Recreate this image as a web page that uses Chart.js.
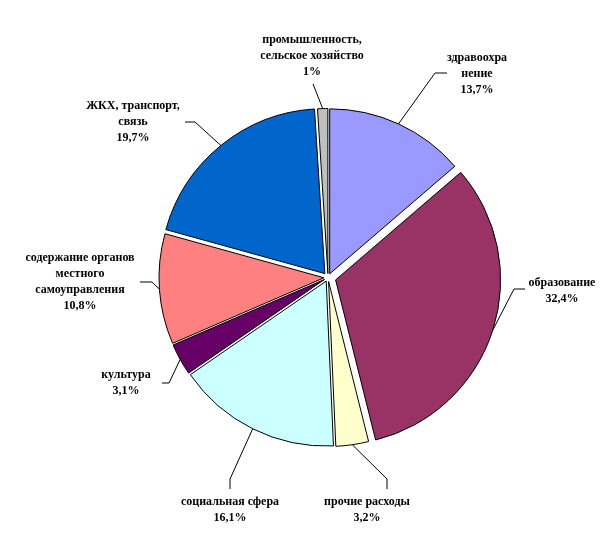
<!DOCTYPE html>
<html>
<head>
<meta charset="utf-8">
<script src="https://cdn.jsdelivr.net/npm/chart.js@4/dist/chart.umd.min.js"></script>
<style>
  html, body { margin: 0; padding: 0; background: #fff; }
  #wrap { width: 612px; height: 539px; }
</style>
</head>
<body>
<div id="wrap"><canvas id="c" width="612" height="539"></canvas></div>
<script>
// ---- data ----
const categories = [
  ["здравоохра", "нение"],
  ["образование"],
  ["прочие расходы"],
  ["социальная сфера"],
  ["культура"],
  ["содержание органов", "местного", "самоуправления"],
  ["ЖКХ, транспорт,", "связь"],
  ["промышленность,", "сельское хозяйство"]
];
const values = [13.7, 32.4, 3.2, 16.1, 3.1, 10.8, 19.7, 1];
const valueLabels = ["13,7%", "32,4%", "3,2%", "16,1%", "3,1%", "10,8%", "19,7%", "1%"];

// ---- style ----
const colors = ["#9999FF", "#993366", "#FFFFCC", "#CCFFFF", "#660066", "#FF8080", "#0066CC", "#C0C0C0"];
const explode = [4, 8, 4, 4, 4, 4, 5, 4];   // px each slice is pulled out
// label layout: text centre x, first line y, leader elbow, leader end
const labelLayout = [
  { tx: 477, ty: 58,  ex: 435, ey: 73,  lx: 447, ly: 73 },
  { tx: 562, ty: 283, ex: 514, ey: 289, lx: 525, ly: 289 },
  { tx: 367, ty: 502, ex: 387, ey: 479, lx: 387, ly: 489 },
  { tx: 230, ty: 502, ex: 230, ey: 479, lx: 230, ly: 489 },
  { tx: 126, ty: 375, ex: 169, ey: 383, lx: 162, ly: 383 },
  { tx: 80,  ty: 258, ex: 152, ey: 282, lx: 140, ly: 282 },
  { tx: 133, ty: 106, ex: 195, ey: 122, lx: 185, ly: 122 },
  { tx: 312, ty: 40,  ex: 313, ey: 84,  lx: 313, ly: 84 }
];
const lineHeight = 16;

const explodePlugin = {
  id: 'explode',
  beforeDatasetDraw(chart, args) {
    const ctx = chart.ctx;
    args.meta.data.forEach((arc, i) => {
      const p = arc.getProps(['startAngle', 'endAngle'], true);
      const mid = (p.startAngle + p.endAngle) / 2;
      ctx.save();
      ctx.translate(Math.cos(mid) * explode[i], Math.sin(mid) * explode[i]);
      arc.draw(ctx, chart.chartArea);
      ctx.restore();
    });
    return false;
  }
};

const labelPlugin = {
  id: 'pieLabels',
  afterDatasetsDraw(chart) {
    const ctx = chart.ctx;
    const meta = chart.getDatasetMeta(0);
    ctx.save();
    meta.data.forEach((arc, i) => {
      const p = arc.getProps(['x', 'y', 'startAngle', 'endAngle', 'outerRadius'], true);
      const mid = (p.startAngle + p.endAngle) / 2;
      const r = p.outerRadius + explode[i];
      const sx = p.x + Math.cos(mid) * r;
      const sy = p.y + Math.sin(mid) * r;
      const L = labelLayout[i];
      ctx.strokeStyle = '#000';
      ctx.lineWidth = 1;
      ctx.beginPath();
      ctx.moveTo(sx, sy);
      ctx.lineTo(L.ex, L.ey);
      ctx.lineTo(L.lx, L.ly);
      ctx.stroke();
      const lines = categories[i].concat([valueLabels[i]]);
      ctx.fillStyle = '#000';
      ctx.font = 'bold 12px "Liberation Serif", "Times New Roman", serif';
      ctx.textAlign = 'center';
      ctx.textBaseline = 'middle';
      lines.forEach((t, k) => ctx.fillText(t, L.tx, L.ty + k * lineHeight));
    });
    ctx.restore();
  }
};

new Chart(document.getElementById('c'), {
  type: 'pie',
  data: {
    labels: categories.map(c => c.join(' ')),
    datasets: [{
      data: values,
      backgroundColor: colors,
      borderColor: '#000',
      borderWidth: 1
    }]
  },
  options: {
    responsive: false,
    animation: false,
    radius: 165,
    layout: { padding: { left: 56, right: 12, top: 40, bottom: 24 } },
    plugins: {
      legend: { display: false },
      tooltip: { enabled: false }
    }
  },
  plugins: [explodePlugin, labelPlugin]
});
</script>
</body>
</html>
